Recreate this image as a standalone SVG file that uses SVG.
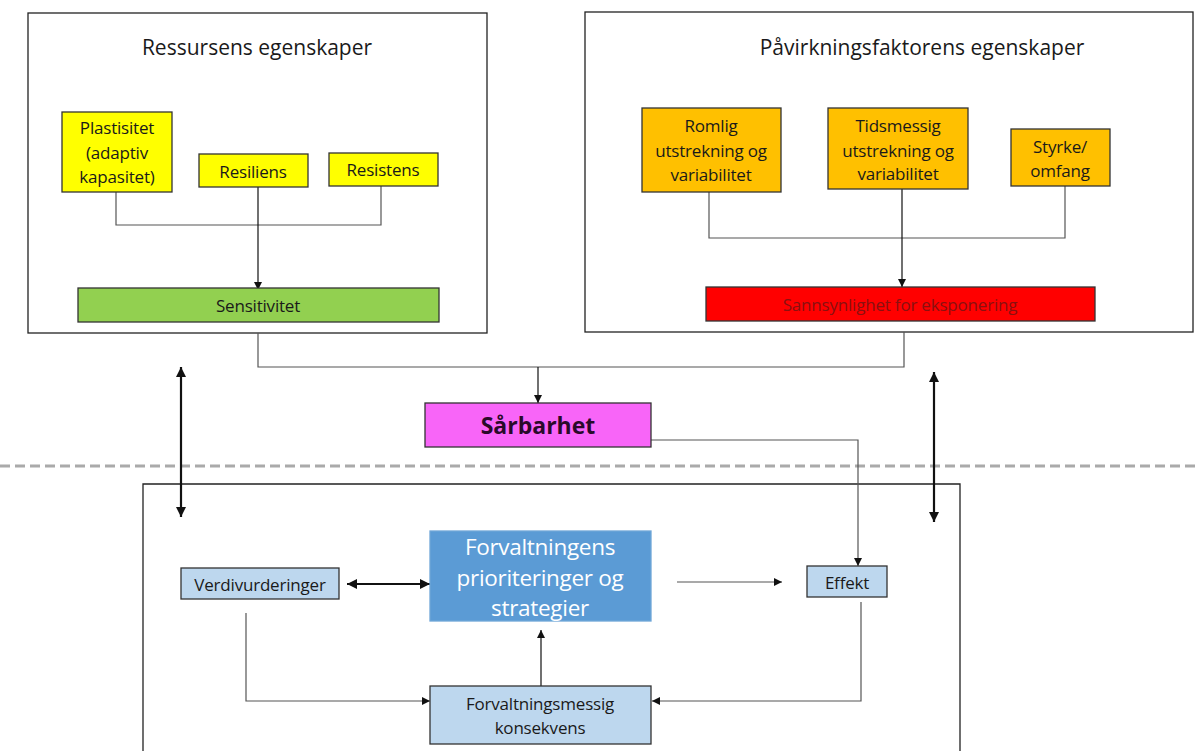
<svg xmlns="http://www.w3.org/2000/svg" width="1195" height="751" viewBox="0 0 1195 751">
<style>
text{font-family:"Open Sans","Liberation Sans",sans-serif;text-anchor:middle;dominant-baseline:central;fill:#1a1a1a}
.frame{fill:#fff;stroke:#222;stroke-width:1.3}
.box{stroke:#333;stroke-width:1.3}
.y{fill:#ffff00}.o{fill:#ffc000}.g{fill:#92d050}.r{fill:#ff0000}.m{fill:#f865f8}.b{fill:#5b9bd5;stroke:#6fa6d8}.lb{fill:#bdd7ee}
.t{font-size:21px}.s{font-size:17px;letter-spacing:-0.2px}
.ln{fill:none;stroke:#555;stroke-width:1.2}
.blk{fill:none;stroke:#111;stroke-width:1.2}
.thick{fill:none;stroke:#111;stroke-width:2.2}
.w{font-size:22.5px;fill:#fff;letter-spacing:-0.3px}
</style>
<defs>
<marker id="ah" viewBox="0 0 10 10" refX="10" refY="5" markerWidth="8" markerHeight="8" markerUnits="userSpaceOnUse" orient="auto-start-reverse"><path d="M0,0L10,5L0,10z" fill="#111"/></marker>
<marker id="ahb" viewBox="0 0 10 10" refX="10" refY="5" markerWidth="10" markerHeight="10" markerUnits="userSpaceOnUse" orient="auto-start-reverse"><path d="M0,0L10,5L0,10z" fill="#111"/></marker>
</defs>
<rect width="1195" height="751" fill="#fff"/>
<g id="frames">
<rect id="frame-ressurs" class="frame" x="28" y="13" width="459" height="320"/>
<rect id="frame-pavirkning" class="frame" x="585" y="12" width="608" height="320"/>
<path id="frame-forvaltning" d="M143,751V484H960V751" fill="#fff" stroke="#222" stroke-width="1.3"/>
<line id="divider" x1="0" y1="466" x2="1195" y2="466" stroke="#aaa" stroke-width="3" stroke-dasharray="10,5"/>
</g>
<g id="titles">
<text class="t" x="257" y="47">Ressursens egenskaper</text>
<text class="t" x="922" y="47">Påvirkningsfaktorens egenskaper</text>
</g>
<g id="connectors">
<path class="ln" d="M116,192V225H381V186"/>
<path class="blk" d="M258,187V290" marker-end="url(#ah)"/>
<path class="ln" d="M709,192V238H1065V186"/>
<path class="blk" d="M902,189V287" marker-end="url(#ah)"/>
<path class="ln" d="M258,333V367H904V332"/>
<path class="blk" d="M538,367V403" marker-end="url(#ah)"/>
<path class="ln" d="M651,440H858V566" marker-end="url(#ah)"/>
<path class="thick" d="M181,367V517" marker-start="url(#ahb)" marker-end="url(#ahb)"/>
<path class="thick" d="M934,372V522" marker-start="url(#ahb)" marker-end="url(#ahb)"/>
<path class="thick" d="M347,584H430" stroke-width="3" marker-start="url(#ahb)" marker-end="url(#ahb)"/>
<path class="ln" d="M677,582H782" marker-end="url(#ah)"/>
<path class="ln" d="M246,613V701H430" marker-end="url(#ah)"/>
<path class="ln" d="M861,602V701H652" marker-end="url(#ah)"/>
<path class="blk" d="M541,686V630" marker-end="url(#ah)"/>
</g>
<g id="plastisitet"><rect class="box y" x="62" y="112" width="110" height="80"/><text class="s" x="117" y="127">Plastisitet</text><text class="s" x="117" y="152">(adaptiv</text><text class="s" x="117" y="176">kapasitet)</text></g>
<g id="resiliens"><rect class="box y" x="199" y="154" width="109" height="33"/><text class="s" x="253" y="171">Resiliens</text></g>
<g id="resistens"><rect class="box y" x="329" y="153" width="109" height="33"/><text class="s" x="383" y="169">Resistens</text></g>
<g id="sensitivitet"><rect class="box g" x="78" y="288" width="361" height="34"/><text class="s" x="258" y="305">Sensitivitet</text></g>
<g id="romlig"><rect class="box o" x="642" y="108" width="139" height="84"/><text class="s" x="711" y="125">Romlig</text><text class="s" x="711" y="150">utstrekning og</text><text class="s" x="711" y="174">variabilitet</text></g>
<g id="tidsmessig"><rect class="box o" x="828" y="108" width="140" height="81"/><text class="s" x="898" y="125">Tidsmessig</text><text class="s" x="898" y="150">utstrekning og</text><text class="s" x="898" y="173">variabilitet</text></g>
<g id="styrke"><rect class="box o" x="1011" y="129" width="99" height="57"/><text class="s" x="1060" y="146">Styrke/</text><text class="s" x="1060" y="170">omfang</text></g>
<g id="sannsynlighet"><rect class="box r" x="706" y="287" width="389" height="34"/><text class="s" x="900" y="304" style="fill:#8a1010">Sannsynlighet for eksponering</text></g>
<g id="sarbarhet"><rect class="box m" x="425" y="403" width="226" height="44"/><text x="538" y="425" style="font-size:23px;font-weight:bold;fill:#2a0a2a">Sårbarhet</text></g>
<g id="forvaltningens"><rect class="box b" x="430" y="531" width="221" height="90"/><text class="w" x="540" y="546">Forvaltningens</text><text class="w" x="540" y="577">prioriteringer og</text><text class="w" x="540" y="607">strategier</text></g>
<g id="verdivurderinger"><rect class="box lb" x="181" y="568" width="158" height="31"/><text class="s" x="260" y="584">Verdivurderinger</text></g>
<g id="effekt"><rect class="box lb" x="807" y="566" width="80" height="31"/><text class="s" x="847" y="582">Effekt</text></g>
<g id="forvaltningsmessig"><rect class="box lb" x="430" y="686" width="221" height="58"/><text class="s" x="540" y="703">Forvaltningsmessig</text><text class="s" x="540" y="727">konsekvens</text></g>
</svg>
